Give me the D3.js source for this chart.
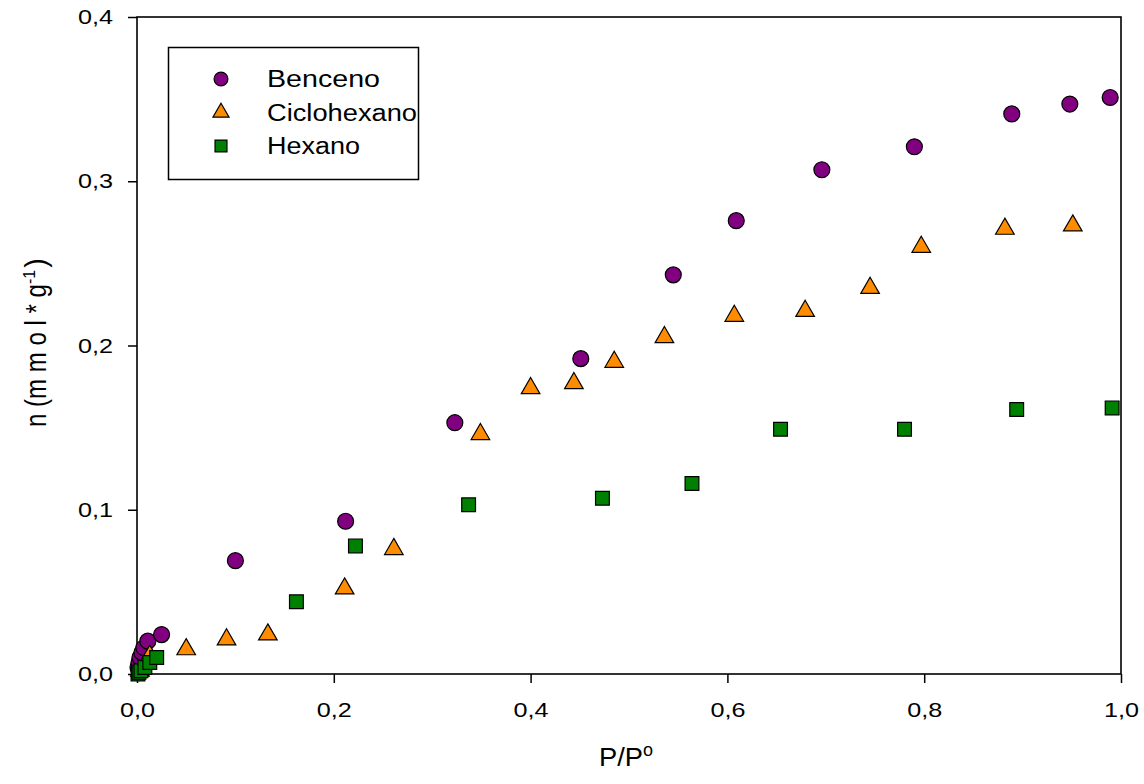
<!DOCTYPE html>
<html>
<head>
<meta charset="utf-8">
<script src="https://cdn.jsdelivr.net/npm/d3@7"></script>
<style>
  body { margin: 0; background: #fff; }
  text { font-family: "Liberation Sans", Arial, sans-serif; }
</style>
</head>
<body>
<script>
// datos
const bencenoX = [0.001, 0.002, 0.003, 0.005, 0.007, 0.011, 0.025, 0.100, 0.212, 0.323, 0.451, 0.545, 0.609, 0.696, 0.790, 0.889, 0.948, 0.989];
const bencenoY = [0.004, 0.007, 0.010, 0.013, 0.016, 0.020, 0.024, 0.069, 0.093, 0.153, 0.192, 0.243, 0.276, 0.307, 0.321, 0.341, 0.347, 0.351];

const cicloX = [0.003, 0.008, 0.013, 0.050, 0.091, 0.133, 0.211, 0.261, 0.349, 0.400, 0.444, 0.485, 0.536, 0.607, 0.679, 0.745, 0.797, 0.882, 0.951];
const cicloY = [0.002, 0.006, 0.011, 0.015, 0.021, 0.024, 0.052, 0.076, 0.146, 0.174, 0.177, 0.190, 0.205, 0.218, 0.221, 0.235, 0.260, 0.271, 0.273];

const hexanoX = [0.001, 0.002, 0.004, 0.008, 0.013, 0.020, 0.162, 0.222, 0.337, 0.473, 0.564, 0.654, 0.780, 0.894, 0.991];
const hexanoY = [0.000, 0.001, 0.002, 0.004, 0.007, 0.010, 0.044, 0.078, 0.103, 0.107, 0.116, 0.149, 0.149, 0.161, 0.162];

const xTicks = [0, 0.2, 0.4, 0.6, 0.8, 1.0];
const yTicks = [0, 0.1, 0.2, 0.3, 0.4];

const series = [
  { name: "Benceno", xs: bencenoX, ys: bencenoY, shape: d3.symbolCircle, size: 200, color: "#800080", w: 113 },
  { name: "Ciclohexano", xs: cicloX, ys: cicloY, shape: d3.symbolTriangle, size: 150, color: "#ff8c00", w: 150 },
  { name: "Hexano", xs: hexanoX, ys: hexanoY, shape: d3.symbolSquare, size: 190, color: "#008000", w: 93 }
];

const W = 1144, H = 784;
const margin = { top: 17, right: 23, bottom: 110, left: 137 };

const svg = d3.select("body").append("svg")
  .attr("width", W)
  .attr("height", H);

const x = d3.scaleLinear().domain([0, 1]).range([margin.left, W - margin.right]);
const y = d3.scaleLinear().domain([0, 0.4]).range([H - margin.bottom, margin.top]);

const fmt = d => d3.format(".1f")(d).replace(".", ",");

// ejes
svg.append("g")
  .attr("transform", `translate(0,${H - margin.bottom})`)
  .call(d3.axisBottom(x).tickValues(xTicks).tickFormat(fmt).tickSize(9).tickPadding(19))
  .call(g => g.select(".domain").remove())
  .call(g => g.selectAll(".tick line").attr("stroke", "#000").attr("stroke-width", 1.5))
  .call(g => g.selectAll("text").attr("font-size", 21).attr("fill", "#000")
    .attr("textLength", 35).attr("lengthAdjust", "spacingAndGlyphs"));

svg.append("g")
  .attr("transform", `translate(${margin.left},0)`)
  .call(d3.axisLeft(y).tickValues(yTicks).tickFormat(fmt).tickSize(9).tickPadding(15))
  .call(g => g.select(".domain").remove())
  .call(g => g.selectAll(".tick line").attr("stroke", "#000").attr("stroke-width", 1.5))
  .call(g => g.selectAll("text").attr("font-size", 21).attr("fill", "#000")
    .attr("textLength", 35).attr("lengthAdjust", "spacingAndGlyphs"));

// marco
svg.append("rect")
  .attr("x", x(0))
  .attr("y", y(0.4))
  .attr("width", x(1) - x(0))
  .attr("height", y(0) - y(0.4))
  .attr("fill", "none")
  .attr("stroke", "#000")
  .attr("stroke-width", 1.6);

// puntos
series.forEach(s => {
  svg.append("g")
    .selectAll("path")
    .data(s.xs.map((v, i) => [v, s.ys[i]]))
    .join("path")
    .attr("transform", d => `translate(${x(d[0])},${y(d[1])})`)
    .attr("d", d3.symbol().type(s.shape).size(s.size))
    .attr("fill", s.color)
    .attr("stroke", "#000")
    .attr("stroke-width", 1.2);
});

// leyenda
const legend = svg.append("g");
legend.append("rect")
  .attr("x", 168.5).attr("y", 47.5)
  .attr("width", 250).attr("height", 132)
  .attr("fill", "#fff")
  .attr("stroke", "#000")
  .attr("stroke-width", 1.5);

series.forEach((s, i) => {
  const yy = 79 + i * 33.5;
  legend.append("path")
    .attr("transform", `translate(221,${yy})`)
    .attr("d", d3.symbol().type(s.shape).size(s.size * 0.75))
    .attr("fill", s.color)
    .attr("stroke", "#000")
    .attr("stroke-width", 1.2);
  legend.append("text")
    .attr("x", 267)
    .attr("y", yy)
    .attr("dy", "0.36em")
    .attr("font-size", 23)
    .attr("textLength", s.w)
    .attr("lengthAdjust", "spacingAndGlyphs")
    .text(s.name);
});

// titulos de ejes
const xl = svg.append("text")
  .attr("x", 599)
  .attr("y", 766)
  .attr("font-size", 25);
xl.append("tspan").text("P/P").attr("textLength", 44).attr("lengthAdjust", "spacingAndGlyphs");
xl.append("tspan").attr("dy", -10).attr("font-size", 18).text("o");

const yl = svg.append("text")
  .attr("transform", "translate(46,427) rotate(-90)")
  .attr("font-size", 29);
yl.append("tspan").text("n (m m o l * g").attr("textLength", 143).attr("lengthAdjust", "spacingAndGlyphs");
yl.append("tspan").attr("dy", -11).attr("font-size", 16).text("-1");
yl.append("tspan").attr("dy", 11).attr("dx", 2).text(")");
</script>
</body>
</html>
